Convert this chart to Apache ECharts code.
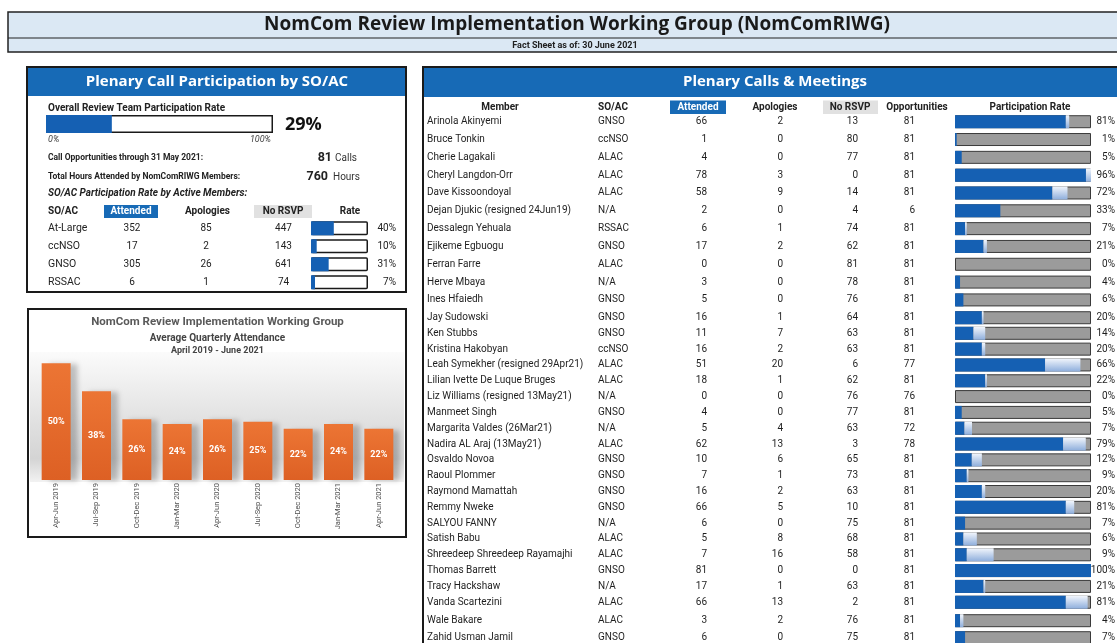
<!DOCTYPE html>
<html>
<head>
<meta charset="utf-8">
<title>NomComRIWG Fact Sheet</title>
<script src="https://cdn.jsdelivr.net/npm/echarts@6/dist/echarts.min.js"></script>
<style>
html,body{margin:0;padding:0;background:#fff;}
#main{width:1117px;height:643px;}
</style>
</head>
<body>
<div id="main"></div>
<script>
// ---- data ----
var pageTitle = 'NomCom Review Implementation Working Group (NomComRIWG)';
var pageSubtitle = 'Fact Sheet as of: 30 June 2021';

var overallRate = 0.29;
var callOpportunities = 81;
var totalHours = 760;

var soacNames = ['At-Large', 'ccNSO', 'GNSO', 'RSSAC'];
var soacAttended = [352, 17, 305, 6];
var soacApologies = [85, 2, 26, 1];
var soacNoRsvp = [447, 143, 641, 74];
var soacRate = [40, 10, 31, 7];

var quarters = ['Apr-Jun 2019', 'Jul-Sep 2019', 'Oct-Dec 2019', 'Jan-Mar 2020', 'Apr-Jun 2020',
  'Jul-Sep 2020', 'Oct-Dec 2020', 'Jan-Mar 2021', 'Apr-Jun 2021'];
var quarterAttendance = [50, 38, 26, 24, 26, 25, 22, 24, 22];

var members = ['Arinola Akinyemi', 'Bruce Tonkin', 'Cherie Lagakali', 'Cheryl Langdon-Orr', 'Dave Kissoondoyal',
  'Dejan Djukic (resigned 24Jun19)', 'Dessalegn Yehuala', 'Ejikeme Egbuogu', 'Ferran Farre', 'Herve Mbaya',
  'Ines Hfaiedh', 'Jay Sudowski', 'Ken Stubbs', 'Kristina Hakobyan', 'Leah Symekher (resigned 29Apr21)',
  'Lilian Ivette De Luque Bruges', 'Liz Williams (resigned 13May21)', 'Manmeet Singh', 'Margarita Valdes (26Mar21)',
  'Nadira AL Araj (13May21)', 'Osvaldo Novoa', 'Raoul Plommer', 'Raymond Mamattah', 'Remmy Nweke', 'SALYOU FANNY',
  'Satish Babu', 'Shreedeep Shreedeep Rayamajhi', 'Thomas Barrett', 'Tracy Hackshaw', 'Vanda Scartezini',
  'Wale Bakare', 'Zahid Usman Jamil'];
var memberSoac = ['GNSO', 'ccNSO', 'ALAC', 'ALAC', 'ALAC', 'N/A', 'RSSAC', 'GNSO', 'ALAC', 'N/A',
  'GNSO', 'GNSO', 'GNSO', 'ccNSO', 'ALAC', 'ALAC', 'N/A', 'GNSO', 'N/A', 'ALAC',
  'GNSO', 'GNSO', 'GNSO', 'GNSO', 'N/A', 'ALAC', 'ALAC', 'GNSO', 'N/A', 'ALAC', 'ALAC', 'GNSO'];
var memberAttended = [66, 1, 4, 78, 58, 2, 6, 17, 0, 3, 5, 16, 11, 16, 51, 18, 0, 4, 5, 62,
  10, 7, 16, 66, 6, 5, 7, 81, 17, 66, 3, 6];
var memberApologies = [2, 0, 0, 3, 9, 0, 1, 2, 0, 0, 0, 1, 7, 2, 20, 1, 0, 0, 4, 13,
  6, 1, 2, 5, 0, 8, 16, 0, 1, 13, 2, 0];
var memberNoRsvp = [13, 80, 77, 0, 14, 4, 74, 62, 81, 78, 76, 64, 63, 63, 6, 62, 76, 77, 63, 3,
  65, 73, 63, 10, 75, 68, 58, 0, 63, 2, 76, 75];
var memberOpportunities = [81, 81, 81, 81, 81, 6, 81, 81, 81, 81, 81, 81, 81, 81, 77, 81, 76, 81, 72, 78,
  81, 81, 81, 81, 81, 81, 81, 81, 81, 81, 81, 81];
var memberRate = [81, 1, 5, 96, 72, 33, 7, 21, 0, 4, 6, 20, 14, 20, 66, 22, 0, 5, 7, 79,
  12, 9, 20, 81, 7, 6, 9, 100, 21, 81, 4, 7];

// ---- chart ----
var myChart = echarts.init(document.getElementById('main'));
var blue = '#176ab6';
var barBlue = '#1560b3';
var font = 'Roboto, sans-serif';
var titleFont = '"Open Sans", sans-serif';

function txt(x, y, text, size, o) {
	o = o || {};
	return {
		type: 'text', x: x, y: y, silent: true, z: 10,
		style: {
			text: text, fontSize: size,
			fontFamily: o.family || font,
			fontWeight: o.weight || 'normal',
			fontStyle: o.style || 'normal',
			fill: o.color || '#222',
			align: o.align || 'left',
			verticalAlign: 'middle'
		}
	};
}
function box(x, y, w, h, fill, stroke, lw, z) {
	return {
		type: 'rect', silent: true, z: z || 0,
		shape: { x: x, y: y, width: w, height: h },
		style: { fill: fill || 'none', stroke: stroke || null, lineWidth: lw || 0 }
	};
}

var graphics = [
	// page header
	box(8, 12, 1115, 40, '#dbe8f4', '#222', 1.5),
	{ type: 'line', silent: true, z: 1, shape: { x1: 8, y1: 38, x2: 1117, y2: 38 }, style: { stroke: '#222', lineWidth: 1.2 } },
	txt(577, 25, pageTitle, 19, { family: titleFont, weight: 'bold', color: '#1a1a1a', align: 'center' }),
	txt(575, 45.5, pageSubtitle, 9, { weight: 'bold', align: 'center' }),

	// left panel
	box(27, 67, 379, 225, '#fff', '#1a1a1a', 2),
	box(28, 68, 377, 28, blue, null, 0, 1),
	txt(217, 82, 'Plenary Call Participation by SO/AC', 15, { family: titleFont, weight: 'bold', color: '#fff', align: 'center' }),
	txt(48, 108, 'Overall Review Team Participation Rate', 10, { weight: 'bold' }),
	txt(285, 125, Math.round(overallRate * 100) + '%', 18, { family: titleFont, weight: 'bold', color: '#111' }),
	txt(48, 140, '0%', 9, { style: 'italic', color: '#444' }),
	txt(271, 140, '100%', 9, { style: 'italic', color: '#444', align: 'right' }),
	txt(48, 158, 'Call Opportunities through 31 May 2021:', 8.5, { weight: 'bold' }),
	txt(332, 158, String(callOpportunities), 12.5, { weight: 'bold', align: 'right' }),
	txt(335, 158, 'Calls', 10, { color: '#333' }),
	txt(48, 177, 'Total Hours Attended by NomComRIWG Members:', 8.5, { weight: 'bold' }),
	txt(328, 177, String(totalHours), 12.5, { weight: 'bold', align: 'right' }),
	txt(333, 177, 'Hours', 10, { color: '#333' }),
	txt(48, 193.5, 'SO/AC Participation Rate by Active Members:', 10, { weight: 'bold', style: 'italic' }),
	txt(48, 211, 'SO/AC', 10, { weight: 'bold' }),
	box(104, 205, 54, 13, blue, null, 0, 1),
	txt(131, 211, 'Attended', 10, { weight: 'bold', color: '#fff', align: 'center' }),
	txt(207.5, 211, 'Apologies', 10, { weight: 'bold', align: 'center' }),
	box(254, 205, 58, 13, '#e1e1e1', null, 0, 1),
	txt(283, 211, 'No RSVP', 10, { weight: 'bold', align: 'center' }),
	txt(350, 211, 'Rate', 10, { weight: 'bold', align: 'center' }),

	// quarterly chart panel
	box(28, 309, 378, 228, '#fff', '#1a1a1a', 2),
	{
		type: 'rect', silent: true, z: 1,
		shape: { x: 30, y: 352, width: 374, height: 130 },
		style: {
			fill: new echarts.graphic.LinearGradient(0, 0, 0, 1, [
				{ offset: 0, color: '#fbfbfb' },
				{ offset: 0.55, color: '#e0e0e0' },
				{ offset: 0.82, color: '#d4d4d4' },
				{ offset: 1, color: '#f2f2f2' }
			])
		}
	},
	txt(217.5, 322, 'NomCom Review Implementation Working Group', 11.5, { weight: 'bold', color: '#5a5a5a', align: 'center' }),
	txt(217.5, 338, 'Average Quarterly Attendance', 10, { weight: 'bold', color: '#444', align: 'center' }),
	txt(217.5, 351, 'April 2019 - June 2021', 9, { weight: 'bold', color: '#444', align: 'center' }),

	// right table
	box(423, 67, 700, 590, '#fff', '#1a1a1a', 2),
	box(424, 68, 700, 29, blue, null, 0, 1),
	txt(775, 82, 'Plenary Calls & Meetings', 15, { family: titleFont, weight: 'bold', color: '#fff', align: 'center' }),
	txt(500, 107, 'Member', 10, { weight: 'bold', align: 'center' }),
	txt(598, 107.5, 'SO/AC', 10, { weight: 'bold' }),
	box(670, 100.5, 56, 13.5, blue, null, 0, 1),
	txt(698, 107, 'Attended', 10, { weight: 'bold', color: '#fff', align: 'center' }),
	txt(775, 107, 'Apologies', 10, { weight: 'bold', align: 'center' }),
	box(823, 100.5, 55, 13.5, '#e1e1e1', null, 0, 1),
	txt(850, 107, 'No RSVP', 10, { weight: 'bold', align: 'center' }),
	txt(917, 107, 'Opportunities', 10, { weight: 'bold', align: 'center' }),
	txt(1030, 107, 'Participation Rate', 10, { weight: 'bold', align: 'center' })
];

var grids = [], xAxes = [], yAxes = [], series = [];
function addGrid(g) {
	grids.push(Object.assign({ outerBoundsMode: 'none', containLabel: false }, g));
	return grids.length - 1;
}

// overall participation bar
var g0 = addGrid({ left: 46, width: 227, top: 115, height: 18 });
xAxes.push({ gridIndex: g0, type: 'value', min: 0, max: 1, show: false });
yAxes.push({ gridIndex: g0, type: 'category', data: ['all'], show: false });
series.push({
	type: 'bar', xAxisIndex: xAxes.length - 1, yAxisIndex: yAxes.length - 1, barWidth: 18, barGap: '-100%',
	data: [1], itemStyle: { color: '#fff', borderColor: '#1a1a1a', borderWidth: 1.5 }, silent: true
});
series.push({
	type: 'bar', xAxisIndex: xAxes.length - 1, yAxisIndex: yAxes.length - 1, barWidth: 18, barGap: '-100%',
	data: [overallRate], itemStyle: { color: barBlue }, silent: true
});

// SO/AC table with rate bars
var g1 = addGrid({ left: 311, right: 1117 - 368, top: 219.3, height: 72 });
xAxes.push({ gridIndex: g1, type: 'value', min: 0, max: 100, show: false });
yAxes.push({
	gridIndex: g1, type: 'category', inverse: true, position: 'left',
	data: soacNames.map(function(n, i) { return String(i); }),
	axisLine: { show: false }, axisTick: { show: false },
	axisLabel: {
		interval: 0, margin: 0, align: 'right', fontFamily: font, fontSize: 10, color: '#222',
		formatter: function(v) {
			var i = parseInt(v, 10);
			return '{s|' + soacNames[i] + '}{a|' + soacAttended[i] + '}{p|' + soacApologies[i] + '}{n|' + soacNoRsvp[i] + '}';
		},
		rich: {
			s: { width: 60, align: 'left', fontSize: 10.5 },
			a: { width: 48, align: 'center' },
			p: { width: 100, align: 'center' },
			n: { width: 55, align: 'center' }
		}
	}
});
yAxes.push({
	gridIndex: g1, type: 'category', inverse: true, position: 'right',
	data: soacNames.map(function(n, i) { return String(i); }),
	axisLine: { show: false }, axisTick: { show: false },
	axisLabel: {
		interval: 0, margin: 2, fontFamily: font, fontSize: 10, color: '#222',
		formatter: function(v) { return '{v|' + soacRate[parseInt(v, 10)] + '%}'; },
		rich: { v: { width: 26, align: 'right' } }
	}
});
var g1y = yAxes.length - 2;
series.push({
	type: 'bar', xAxisIndex: xAxes.length - 1, yAxisIndex: g1y, barWidth: 14, barGap: '-100%', silent: true,
	data: soacNames.map(function() { return 100; }),
	itemStyle: { color: '#fff', borderColor: '#1a1a1a', borderWidth: 1.5, borderRadius: 1 }
});
series.push({
	type: 'bar', xAxisIndex: xAxes.length - 1, yAxisIndex: g1y, barWidth: 14, barGap: '-100%', silent: true,
	data: soacRate, itemStyle: { color: barBlue }
});

// quarterly attendance chart
var g2 = addGrid({ left: 36, width: 363, top: 340, height: 140 });
xAxes.push({
	gridIndex: g2, type: 'category', data: quarters,
	axisLine: { lineStyle: { color: '#8eb4e3', width: 1.5 } },
	axisTick: { show: false },
	axisLabel: { interval: 0, rotate: 90, margin: 3, fontSize: 7.5, color: '#505050', fontFamily: font }
});
yAxes.push({ gridIndex: g2, type: 'value', min: 0, max: 60, show: false });
series.push({
	type: 'bar', xAxisIndex: xAxes.length - 1, yAxisIndex: yAxes.length - 1, barWidth: 29, silent: true,
	data: quarterAttendance,
	itemStyle: {
		color: new echarts.graphic.LinearGradient(0, 0, 0, 1, [
			{ offset: 0, color: '#ec7534' }, { offset: 1, color: '#dd6024' }
		]),
		shadowColor: 'rgba(0,0,0,0.22)', shadowBlur: 5, shadowOffsetX: 7, shadowOffsetY: 1
	},
	label: {
		show: true, position: 'inside', formatter: '{c}%', color: '#fff',
		fontSize: 9, fontWeight: 'bold', fontFamily: font
	}
});

// member table, split where the sheet's row heights change
var segments = [
	{ from: 0, to: 12, top: 112.8, pitch: 17.82 },
	{ from: 12, to: 30, top: 325.4, pitch: 15.82 },
	{ from: 30, to: 32, top: 612.2, pitch: 17 }
];
var lightBlue = new echarts.graphic.LinearGradient(0, 0, 0, 1, [
	{ offset: 0, color: '#f2f6fc' }, { offset: 1, color: '#8eaedc' }
]);
segments.forEach(function(seg) {
	var idx = [];
	for (var i = seg.from; i < seg.to; i++) idx.push(String(i));
	var gi = addGrid({ left: 955, right: 26, top: seg.top, height: idx.length * seg.pitch });
	xAxes.push({ gridIndex: gi, type: 'value', min: 0, max: 1, show: false });
	var xi = xAxes.length - 1;
	yAxes.push({
		gridIndex: gi, type: 'category', inverse: true, position: 'left', data: idx,
		axisLine: { show: false }, axisTick: { show: false },
		axisLabel: {
			interval: 0, margin: 40, align: 'right', fontFamily: font, fontSize: 10, color: '#1e1e1e',
			formatter: function(v) {
				var i = parseInt(v, 10);
				return '{n|' + members[i] + '}{s|' + memberSoac[i] + '}{a|' + memberAttended[i] + '}{p|' +
					memberApologies[i] + '}{r|' + memberNoRsvp[i] + '}{o|' + memberOpportunities[i] + '}';
			},
			rich: {
				n: { width: 171, align: 'left' },
				s: { width: 72, align: 'left' },
				a: { width: 37, align: 'right' },
				p: { width: 76, align: 'right' },
				r: { width: 75, align: 'right' },
				o: { width: 57, align: 'right' }
			}
		}
	});
	var yi = yAxes.length - 1;
	yAxes.push({
		gridIndex: gi, type: 'category', inverse: true, position: 'right', data: idx,
		axisLine: { show: false }, axisTick: { show: false },
		axisLabel: {
			interval: 0, margin: 2, fontFamily: font, fontSize: 10, color: '#1e1e1e',
			formatter: function(v) { return '{v|' + memberRate[parseInt(v, 10)] + '%}'; },
			rich: { v: { width: 22, align: 'right' } }
		}
	});
	series.push({
		type: 'bar', xAxisIndex: xi, yAxisIndex: yi, barWidth: 13, barGap: '-100%', silent: true,
		data: idx.map(function() { return 1; }),
		itemStyle: { color: '#9b9b9b', borderColor: '#3a3a3a', borderWidth: 1 }
	});
	series.push({
		type: 'bar', xAxisIndex: xi, yAxisIndex: yi, barWidth: 13, barGap: '-100%', silent: true, stack: 'rate' + gi,
		data: idx.map(function(v) { var i = +v; return memberAttended[i] / memberOpportunities[i]; }),
		itemStyle: { color: barBlue }
	});
	series.push({
		type: 'bar', xAxisIndex: xi, yAxisIndex: yi, barWidth: 13, barGap: '-100%', silent: true, stack: 'rate' + gi,
		data: idx.map(function(v) { var i = +v; return memberApologies[i] / memberOpportunities[i]; }),
		itemStyle: { color: lightBlue }
	});
});

var option = {
	animation: false,
	backgroundColor: '#fff',
	graphic: graphics,
	grid: grids,
	xAxis: xAxes,
	yAxis: yAxes,
	series: series
};
myChart.setOption(option);
</script>
</body>
</html>
